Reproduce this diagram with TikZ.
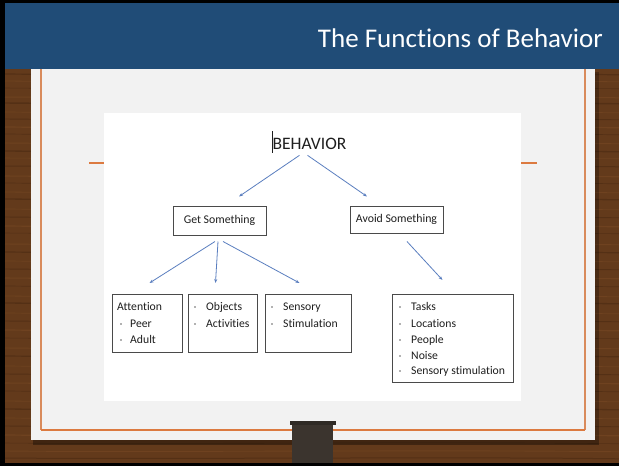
\documentclass[tikz,border=0pt]{standalone}
\usepackage{fontspec}
\setmainfont{Carlito}[Ligatures={NoCommon,NoRequired,NoContextual}]
\usetikzlibrary{arrows.meta,calc}
\definecolor{hdr}{HTML}{204C77}
\definecolor{wood}{HTML}{633A1B}
\definecolor{woodd}{HTML}{3E220D}
\definecolor{woodl}{HTML}{815028}
\definecolor{paper}{HTML}{F2F2F2}
\definecolor{framec}{HTML}{D98B5C}
\definecolor{framed}{HTML}{DC7A40}
\definecolor{arrc}{HTML}{5A7EBF}
\definecolor{tabc}{HTML}{3B342E}
\definecolor{boxc}{HTML}{4A4A4A}
\definecolor{txtc}{HTML}{1E1E1E}
\begin{document}
\begin{tikzpicture}[x=1pt,y=-1pt,
  conn/.style={draw=arrc, line width=0.8pt, -{Stealth[length=4pt,width=3pt]}},
  labbox/.style={draw=boxc, line width=1pt, inner sep=0pt, text=txtc, font=\fontsize{11.8}{14}\selectfont},
  listbox/.style={draw=boxc, line width=1pt, inner sep=0pt, anchor=north west},
  item/.style={anchor=base west, inner sep=0pt, text=txtc, font=\fontsize{11.7}{14}\selectfont},
  bul/.style={fill=gray!60, minimum size=1.6pt, inner sep=0pt}
]
\useasboundingbox (0,0) rectangle (619,466);
% background and wood
\fill[black] (0,0) rectangle (619,466);
\fill[wood] (5,69) rectangle (619,463);
\foreach \y/\c/\w in {74/woodd/1.2,81/woodl/0.8,88/woodd/0.6,97/woodl/1.0,103/woodd/1.4,112/woodl/0.7,119/woodd/0.9,127/woodl/1.2,134/woodd/0.7,143/woodl/0.9,151/woodd/1.3,158/woodl/0.6,166/woodd/1.0,176/woodl/1.1,183/woodd/0.7,192/woodl/0.8,199/woodd/1.3,209/woodl/0.7,217/woodd/0.9,226/woodl/1.2,233/woodd/0.6,244/woodl/0.9,252/woodd/1.2,261/woodl/0.7,269/woodd/0.9,278/woodl/1.1,286/woodd/0.7,296/woodl/0.8,303/woodd/1.3,313/woodl/0.7,321/woodd/0.9,330/woodl/1.2,338/woodd/0.6,348/woodl/0.9,356/woodd/1.2,366/woodl/0.7,374/woodd/0.9,383/woodl/1.1,391/woodd/0.7,401/woodl/0.8,409/woodd/1.3,418/woodl/0.7,426/woodd/0.9,435/woodl/1.2,443/woodd/0.6,451/woodl/0.9,458/woodd/1.0}{
  \draw[\c, line width=\w pt, opacity=0.4] (5,\y) .. controls (150,\y+1.5) and (450,\y-1.5) .. (619,\y+0.8);
}
% paper
\fill[black, opacity=0.35] (33,440) rectangle (599,445);
\fill[black, opacity=0.25] (595,72) rectangle (599,440);
\fill[paper] (31,69) rectangle (595,440);
\draw[framec, line width=1.1pt] (41,69) -- (41,430);
\draw[framec, line width=1.1pt] (585,430) -- (585,69);
\draw[framed, line width=1.1pt] (41,430) -- (585,430);
\draw[framed, line width=1.3pt] (89,163) -- (104,163);
\draw[framed, line width=1.3pt] (521,163) -- (537,163);
% inserted picture
\fill[white] (104,113) rectangle (521,401);
% header
\fill[hdr] (5,3) rectangle (619,69);
\node[anchor=base east, inner sep=0pt, text=white, font=\fontsize{27}{30}\selectfont] (title) at (603,47) {The Functions of Behavior};
% bottom tab
\fill[tabc] (292,424) rectangle (333,463);
\fill[tabc!80!black] (290,421) rectangle (336,424.5);
% diagram
\node[anchor=base, inner sep=0pt, text=txtc, font=\fontsize{17.5}{20}\selectfont] (beh) at (309.5,149) {BEHAVIOR};
\draw[txtc, line width=0.7pt] ($(beh.west)+(-0.5,-12)$) -- ($(beh.west)+(-0.5,10)$);
\node[labbox, minimum width=93pt, minimum height=29pt] (get) at (219.5,220.5) {Get Something};
\node[labbox, minimum width=93pt, minimum height=27pt] (avoid) at (396.5,219.5) {Avoid Something};

\node[listbox, minimum width=70pt, minimum height=58pt] (att) at (112,294) {};
\node[listbox, minimum width=69pt, minimum height=58pt] (obj) at (188,294) {};
\node[listbox, minimum width=86pt, minimum height=58pt] (sens) at (265,294) {};
\node[listbox, minimum width=121pt, minimum height=88pt] (tasks) at (392,294) {};

\node[item] (t1) at (117,310) {Attention};
\node[bul] (b1) at (121,324) {}; \node[item] (t2) at (130,327) {Peer};
\node[bul] (b2) at (121,340) {}; \node[item] (t3) at (130,343) {Adult};

\node[bul] (b3) at (195,307) {}; \node[item] (t4) at (206,310) {Objects};
\node[bul] (b4) at (195,324) {}; \node[item] (t5) at (206,327) {Activities};

\node[bul] (b5) at (272,307) {}; \node[item] (t6) at (283,310) {Sensory};
\node[bul] (b6) at (272,324) {}; \node[item] (t7) at (283,327) {Stimulation};

\node[bul] (b7) at (400,307) {}; \node[item] (t8) at (411,310) {Tasks};
\node[bul] (b8) at (400,324) {}; \node[item] (t9) at (411,327) {Locations};
\node[bul] (b9) at (400,340) {}; \node[item] (t10) at (411,343) {People};
\node[bul] (b10) at (400,356) {}; \node[item] (t11) at (411,359) {Noise};
\node[bul] (b11) at (400,371) {}; \node[item] (t12) at (411,374) {Sensory stimulation};

% connectors
\draw[conn] ($(beh.south)+(-10,6)$) -- ($(get.north)+(19.5,-9)$);
\draw[conn] ($(beh.south)+(-2,6)$) -- ($(avoid.north)+(-29.5,-9)$);
\draw[conn] ($(get.south)+(-4.5,6)$) -- ($(att.north)+(2,-11)$);
\draw[conn] ($(get.south)+(-1.5,6)$) -- ($(obj.north)+(-7.5,-11)$);
\draw[conn] ($(get.south)+(3.5,6)$) -- ($(sens.north)+(-9,-11)$);
\draw[conn] ($(avoid.south)+(10.5,8)$) -- ($(tasks.north)+(-10.5,-14)$);
\end{tikzpicture}
\end{document}
